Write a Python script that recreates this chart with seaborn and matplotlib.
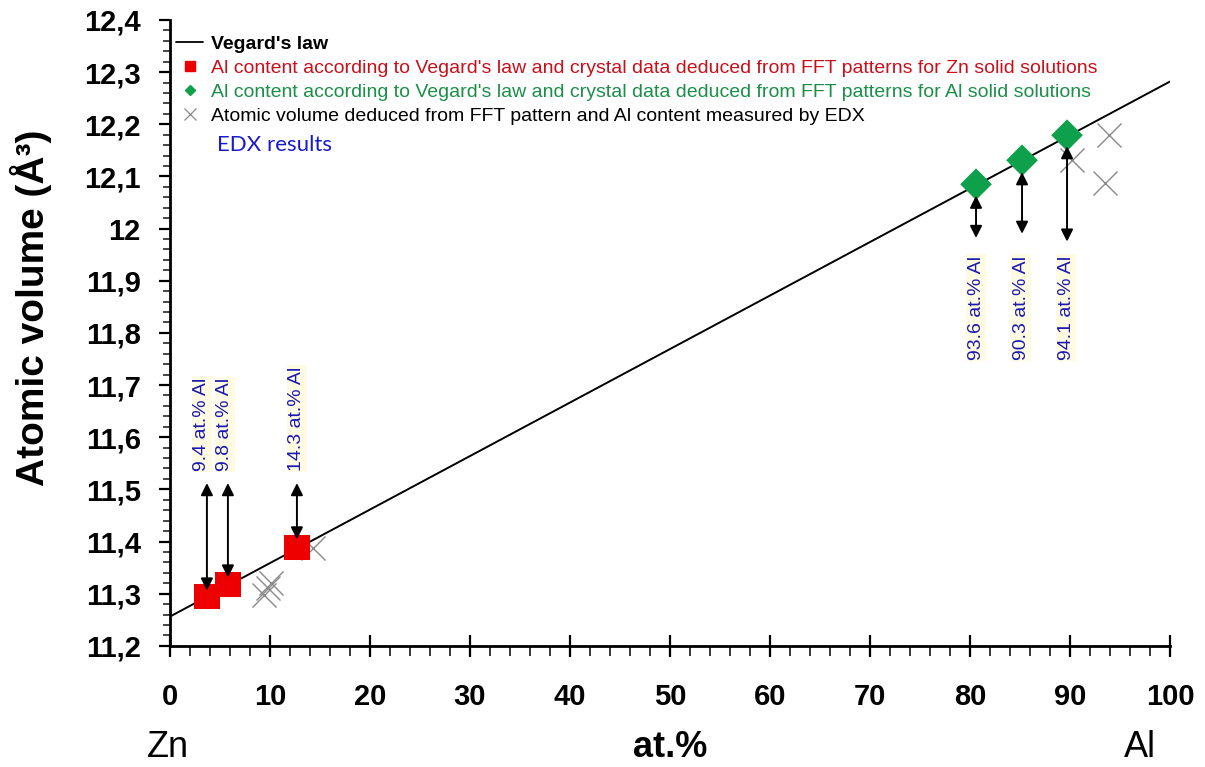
import numpy as np
import pandas as pd
import matplotlib
matplotlib.use("Agg")
import matplotlib.pyplot as plt
import seaborn as sns
from matplotlib.ticker import MultipleLocator, FuncFormatter
from matplotlib.lines import Line2D

# ---------------- data ----------------
vegard_x = [0, 100]
vegard_y = [11.256, 12.282]

zn_x = [3.7, 5.8, 12.7]
zn_y = [11.294, 11.317, 11.388]

al_x = [80.6, 85.2, 89.7]
al_y = [12.085, 12.131, 12.179]

edx_x = [9.4, 9.8, 10.1, 14.3, 93.5, 90.2, 93.9]
edx_y = [11.297, 11.310, 11.320, 11.388, 12.087, 12.131, 12.180]

zn_labels = ["9.4 at.% Al", "9.8 at.% Al", "14.3 at.% Al"]
al_labels = ["93.6 at.% Al", "90.3 at.% Al", "94.1 at.% Al"]
zn_arrow_low = [11.306, 11.331, 11.404]
zn_arrow_high = 11.512
zn_label_x = [3.2, 5.5, 12.7]
zn_label_y = 11.535
al_arrow_high = [12.063, 12.108, 12.158]
al_arrow_low = [11.982, 11.990, 11.975]
al_label_x = [80.6, 85.1, 89.6]
al_label_y = 11.948

xticks = list(range(0, 101, 10))
yticks = [11.2, 11.3, 11.4, 11.5, 11.6, 11.7, 11.8, 11.9, 12.0, 12.1, 12.2, 12.3, 12.4]

legend_labels = [
    "Vegard's law",
    "Al content according to Vegard's law and crystal data deduced from FFT patterns for Zn solid solutions",
    "Al content according to Vegard's law and crystal data deduced from FFT patterns for Al solid solutions",
    "Atomic volume deduced from FFT pattern and Al content measured by EDX",
]

# ---------------- style ----------------
sns.set_theme(style="ticks")
plt.rcParams['font.family'] = ['Liberation Sans', 'DejaVu Sans']
plt.rcParams['text.color'] = 'black'
plt.rcParams['axes.labelcolor'] = 'black'

RED = "#ee0000"
GREEN = "#0fa04c"
BLUE = "#1a1ab0"
GRAY = "#8a8a8a"

fig = plt.figure(figsize=(12.05, 7.67), dpi=100)
ax = fig.add_axes([0.141, 0.158, 0.830, 0.816])

sns.lineplot(x=vegard_x, y=vegard_y, ax=ax, color="black", linewidth=1.4, zorder=2)
sns.scatterplot(x=edx_x, y=edx_y, ax=ax, marker="x", s=300, color=GRAY,
                linewidth=1.0, zorder=3)
sns.scatterplot(x=zn_x, y=zn_y, ax=ax, marker="s", s=330, color=RED,
                edgecolor="none", zorder=4)
sns.scatterplot(x=al_x, y=al_y, ax=ax, marker="D", s=260, color=GREEN,
                edgecolor="none", zorder=4)

arrow_kw = dict(arrowstyle="<|-|>", color="black", lw=1.4,
                mutation_scale=18, shrinkA=0, shrinkB=0)
bbox_kw = dict(facecolor="#fffbe3", edgecolor="none", pad=1.0)

for x, lo, lab, lx in zip(zn_x, zn_arrow_low, zn_labels, zn_label_x):
    ax.annotate("", xy=(x, lo), xytext=(x, zn_arrow_high), arrowprops=arrow_kw, zorder=5)
    ax.text(lx, zn_label_y, lab, rotation=90, ha="center", va="bottom",
            color=BLUE, fontsize=14, bbox=bbox_kw)

for x, hi, lo, lab, lx in zip(al_x, al_arrow_high, al_arrow_low, al_labels, al_label_x):
    ax.annotate("", xy=(x, hi), xytext=(x, lo), arrowprops=arrow_kw, zorder=5)
    ax.text(lx, al_label_y, lab, rotation=90, ha="center", va="top",
            color=BLUE, fontsize=14, bbox=bbox_kw)

# ---------------- axes ----------------
ax.set_xlim(0, 100)
ax.set_ylim(11.2, 12.4)
ax.set_xticks(xticks)
ax.set_yticks(yticks)
ax.xaxis.set_minor_locator(MultipleLocator(2))
ax.yaxis.set_minor_locator(MultipleLocator(0.02))


def comma_fmt(v, pos):
    s = f"{v:.1f}".replace(".", ",")
    if s.endswith(",0"):
        s = s[:-2]
    return s


ax.yaxis.set_major_formatter(FuncFormatter(comma_fmt))
ax.xaxis.set_major_formatter(FuncFormatter(lambda v, p: f"{v:.0f}"))

for sp in ["top", "right"]:
    ax.spines[sp].set_visible(False)
for sp in ["left", "bottom"]:
    ax.spines[sp].set_linewidth(2.0)
    ax.spines[sp].set_color("black")

ax.tick_params(axis="x", which="major", direction="inout", length=16, width=1.6,
               pad=19, labelsize=21, colors="black")
ax.tick_params(axis="x", which="minor", direction="out", length=7, width=1.3)
ax.tick_params(axis="y", which="major", direction="out", length=8, width=1.6,
               pad=13, labelsize=21, colors="black")
ax.tick_params(axis="y", which="minor", direction="out", length=5, width=1.2)
for t in ax.get_xticklabels():
    t.set_fontweight("bold")
for t in ax.get_yticklabels():
    t.set_fontweight("bold")

ax.set_ylabel("Atomic volume (Å³)", fontsize=28, fontweight="bold", color="black")
ax.yaxis.set_label_coords(-0.118, 0.54)
ax.set_xlabel("")
ax.text(0.5, -0.163, "at.%", transform=ax.transAxes, ha="center", va="center",
        fontsize=26, fontweight="bold", color="black")
ax.text(-0.002, -0.163, "Zn", transform=ax.transAxes, ha="center", va="center",
        fontsize=26, color="black")
ax.text(0.97, -0.163, "Al", transform=ax.transAxes, ha="center", va="center",
        fontsize=26, color="black")

ax.text(0.047, 0.80, "EDX results", transform=ax.transAxes, ha="left", va="center",
        fontsize=16, color="#1a1acc", family=['Lato', 'DejaVu Sans'])

# ---------------- legend ----------------
handles = [
    Line2D([], [], color="black", lw=1.3),
    Line2D([], [], marker="s", ls="none", color=RED, markersize=7),
    Line2D([], [], marker="D", ls="none", color=GREEN, markersize=5.5),
    Line2D([], [], marker="x", ls="none", color=GRAY, markersize=8, mew=0.9),
]
leg = ax.legend(handles, legend_labels, loc="upper left",
                bbox_to_anchor=(0.006, 0.975), frameon=False, fontsize=14,
                handlelength=1.4, handletextpad=0.4, labelspacing=0.32,
                borderpad=0.0, borderaxespad=0.0)
text_colors = ["black", "#c8101a", "#1b8f48", "black"]
for t, c in zip(leg.get_texts(), text_colors):
    t.set_color(c)
leg.get_texts()[0].set_fontweight("bold")

fig.savefig("out.png", dpi=100)
